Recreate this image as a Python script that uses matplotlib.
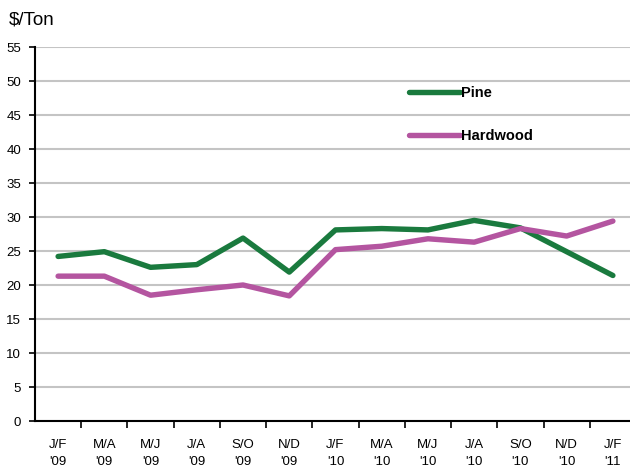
import matplotlib
matplotlib.use("Agg")
import matplotlib.pyplot as plt
import numpy as np

categories = ["J/F\n'09", "M/A\n'09", "M/J\n'09", "J/A\n'09", "S/O\n'09", "N/D\n'09",
              "J/F\n'10", "M/A\n'10", "M/J\n'10", "J/A\n'10", "S/O\n'10", "N/D\n'10",
              "J/F\n'11"]
pine = [24.2, 24.9, 22.6, 23.0, 26.9, 21.9, 28.1, 28.3, 28.1, 29.5, 28.4, 24.9, 21.4]
hardwood = [21.3, 21.3, 18.5, 19.3, 20.0, 18.4, 25.2, 25.7, 26.8, 26.3, 28.3, 27.2, 29.4]
yticks = list(range(0, 60, 5))

plt.rcParams['font.family'] = ['Liberation Sans', 'DejaVu Sans']

W, H = 630, 470
fig = plt.figure(figsize=(W / 100, H / 100), dpi=100)
ax = fig.add_axes([35 / W, 49 / H, 601 / W, 374 / H])

x = np.arange(len(categories))
green = '#1a7a3e'
magenta = '#b455a0'
ax.plot(x, pine, color=green, lw=3.9, solid_capstyle='round', solid_joinstyle='round', label='Pine', zorder=3)
ax.plot(x, hardwood, color=magenta, lw=3.9, solid_capstyle='round', solid_joinstyle='round', label='Hardwood', zorder=3)

ax.set_xlim(-0.5, len(categories) - 0.5)
ax.set_ylim(0, 55)
ax.set_yticks(yticks)
ax.set_yticklabels([str(v) for v in yticks], fontsize=9.5)
ax.yaxis.grid(True, color='#c4c4c4', lw=1.5)
ax.set_axisbelow(True)

ax.set_xticks(x)
ax.set_xticklabels(categories, fontsize=9.5, linespacing=1.55)
ax.set_xticks(np.arange(len(categories)) + 0.5, minor=True)
ax.tick_params(axis='x', which='major', length=0, pad=13)
ax.tick_params(axis='x', which='minor', length=5, width=1.2, direction='out')
ax.tick_params(axis='y', length=4, width=1.2, direction='out', pad=6)

for s in ['top', 'right']:
    ax.spines[s].set_visible(False)
for s in ['left', 'bottom']:
    ax.spines[s].set_linewidth(1.5)
    ax.spines[s].set_color('black')

ax.legend(loc='upper left', bbox_to_anchor=(0.6, 0.93), frameon=False,
          handlelength=3.5, handletextpad=0.1, labelspacing=1.95,
          prop={'weight': 'bold', 'size': 10.5})

fig.text(9 / W, 1 - 20 / H, '$/Ton', fontsize=13.5, va='center', ha='left')
fig.text(354 / W, 1 + 4 / H, 'Pulpwood Stumpage', fontsize=13, fontweight='bold',
         ha='right', va='baseline')

fig.savefig('out.png', dpi=100)
